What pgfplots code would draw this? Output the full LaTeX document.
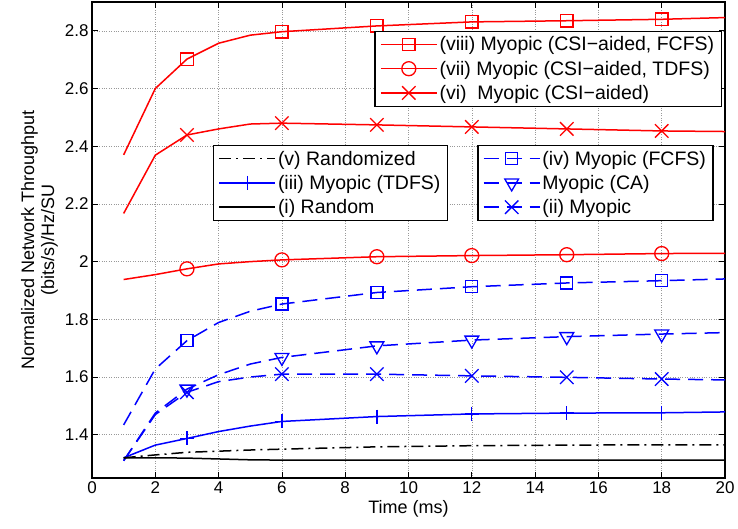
\documentclass[border=0pt]{standalone}
\usepackage{pgfplots}
\pgfplotsset{compat=1.18}
\usepackage{fontspec}
\setmainfont{Liberation Sans}

\pgfplotsset{
  common/.style={
    scale only axis, width=633pt, height=476pt,
    xmin=0, xmax=20, ymin=1.25, ymax=2.9,
    legend image code/.code={\draw[##1, mark=none] (0pt,0pt) -- (56pt,0pt); \draw[##1] plot coordinates {(28pt,0pt)};},
    legend cell align=left,
    legend style={font=\fontsize{19.5}{21}\selectfont, draw=black, line width=1.2pt, inner xsep=5pt, inner ysep=3.5pt, row sep=4.6pt},
  },
  sviii/.style={color=red, line width=1.5pt, mark=square, mark size=6.2pt, mark options={solid, line width=1.3pt}},
  svii/.style={color=red, line width=1.5pt, mark=o, mark size=7pt, mark options={solid, line width=1.3pt}},
  svi/.style={color=red, line width=1.5pt, mark=x, mark size=9.5pt, mark options={solid, line width=1.3pt}},
  siv/.style={color=blue, line width=1.5pt, dash pattern=on 15pt off 8pt, mark=square, mark size=6pt, mark options={solid, line width=1.3pt}},
  sca/.style={color=blue, line width=1.5pt, dash pattern=on 15pt off 8pt, mark=triangle, mark size=8pt, mark options={solid, rotate=180, line width=1.3pt}},
  sii/.style={color=blue, line width=1.5pt, dash pattern=on 15pt off 8pt, mark=x, mark size=9.5pt, mark options={solid, line width=1.3pt}},
  siii/.style={color=blue, line width=1.5pt, mark=+, mark size=7pt, mark options={solid, line width=1.3pt}},
  sv/.style={color=black, line width=1.5pt, dash pattern=on 12pt off 5pt on 2pt off 5pt},
  si/.style={color=black, line width=1.5pt},
}

\begin{document}
\begin{tikzpicture}
\begin{axis}[common,
  xtick={0,2,...,20}, ytick={1.4,1.6,...,2.81},
  tick pos=both, tick align=inside, major tick length=6pt,
  grid=major, grid style={dotted, gray!80, line width=0.6pt},
  axis line style={line width=1.2pt},
  every tick/.style={black, line width=0.8pt},
  /pgf/number format/assume math mode=true,
  ticklabel style={font=\fontsize{17}{20}\selectfont},
  label style={font=\fontsize{18}{20}\selectfont},
  xlabel={Time (ms)},
  ylabel={Normalized Network Throughput\\(bits/s)/Hz/SU},
  ylabel style={align=center},
  legend style={at={(rel axis cs:0.995,0.94)}, anchor=north east},
]
\addplot[sviii, mark indices={3,6,7,8,9,10}, forget plot] coordinates {(1,2.37)(2,2.60)(3,2.702)(4,2.757)(5,2.785)(6,2.797)(9,2.817)(12,2.831)(15,2.835)(18,2.840)(20,2.846)};
\addplot[svii, mark indices={3,6,7,8,9,10}, forget plot] coordinates {(1,1.938)(2,1.955)(3,1.975)(4,1.992)(5,2.0)(6,2.006)(9,2.017)(12,2.021)(15,2.024)(18,2.028)(20,2.029)};
\addplot[svi, mark indices={3,6,7,8,9,10}, forget plot] coordinates {(1,2.167)(2,2.369)(3,2.439)(4,2.46)(5,2.477)(6,2.480)(9,2.474)(12,2.467)(15,2.460)(18,2.453)(20,2.451)};
\addplot[siv, mark indices={3,6,7,8,9,10}, forget plot] coordinates {(1,1.434)(2,1.628)(3,1.726)(4,1.789)(5,1.828)(6,1.853)(9,1.893)(12,1.913)(15,1.926)(18,1.934)(20,1.940)};
\addplot[sca, mark indices={3,6,7,8,9,10}, forget plot] coordinates {(1,1.31)(2,1.475)(3,1.558)(4,1.608)(5,1.645)(6,1.668)(9,1.708)(12,1.728)(15,1.740)(18,1.749)(20,1.754)};
\addplot[sii, mark indices={3,6,7,8,9,10}, forget plot] coordinates {(1,1.31)(2,1.47)(3,1.547)(4,1.584)(5,1.60)(6,1.61)(9,1.61)(12,1.604)(15,1.599)(18,1.593)(20,1.59)};
\addplot[siii, mark indices={3,6,7,8,9,10}, forget plot] coordinates {(1,1.32)(2,1.364)(3,1.387)(4,1.411)(5,1.43)(6,1.446)(9,1.463)(12,1.472)(15,1.475)(18,1.476)(20,1.479)};
\addplot[sv, forget plot] coordinates {(1,1.32)(2,1.33)(3,1.339)(4,1.343)(5,1.347)(6,1.35)(9,1.358)(12,1.362)(15,1.364)(18,1.365)(20,1.365)};
\addplot[si, forget plot] coordinates {(1,1.32)(2,1.32)(3,1.319)(4,1.316)(5,1.313)(6,1.312)(9,1.312)(12,1.312)(15,1.312)(18,1.312)(20,1.312)};
\addlegendimage{sviii}
\addlegendentry{(viii) Myopic (CSI−aided, FCFS)}
\addlegendimage{svii}
\addlegendentry{(vii) Myopic (CSI−aided, TDFS)}
\addlegendimage{svi}
\addlegendentry{(vi)\ \ Myopic (CSI−aided)}
\end{axis}
\begin{axis}[common, hide axis,
  legend style={at={(rel axis cs:0.191,0.7)}, anchor=north west}]
\addlegendimage{sv}
\addlegendentry{(v) Randomized}
\addlegendimage{siii}
\addlegendentry{(iii) Myopic (TDFS)}
\addlegendimage{si}
\addlegendentry{(i) Random}
\end{axis}
\begin{axis}[common, hide axis,
  legend style={at={(rel axis cs:0.982,0.7)}, anchor=north east}]
\addlegendimage{siv}
\addlegendentry{(iv) Myopic (FCFS)}
\addlegendimage{sca}
\addlegendentry{Myopic (CA)}
\addlegendimage{sii}
\addlegendentry{(ii) Myopic}
\end{axis}
\path (current axis.south west) ++(-92pt,-51pt) rectangle ++(738pt,529pt);
\end{tikzpicture}
\end{document}
